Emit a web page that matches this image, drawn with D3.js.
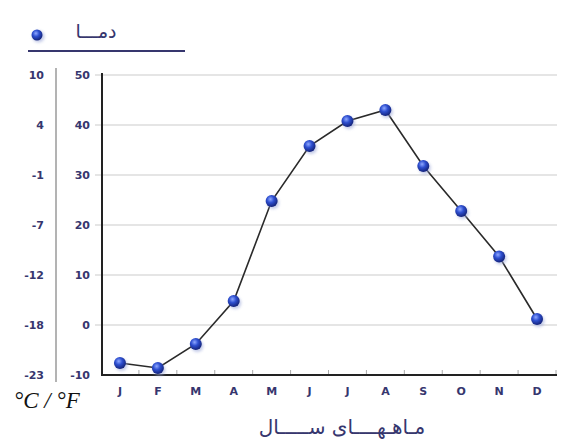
<!DOCTYPE html>
<html>
<head>
<meta charset="utf-8">
<script src="https://cdn.jsdelivr.net/npm/d3@7"></script>
<style>
  body { margin: 0; background: #fff; }
  svg { display: block; }
</style>
</head>
<body>
<div class="chart"></div>
<script>
const months = ["J", "F", "M", "A", "M", "J", "J", "A", "S", "O", "N", "D"];
const tempF = [-7.6, -8.6, -3.8, 4.8, 24.8, 35.8, 40.8, 43, 31.8, 22.8, 13.7, 1.2];
const ticksF = [50, 40, 30, 20, 10, 0, -10];
const ticksC = ["10", "4", "-1", "-7", "-12", "-18", "-23"];
const seriesName = "دمـــا";
const xTitle = "مـاهـهــــای ســـــال";
const unitLabel = "°C / °F";

const width = 561;
const height = 445;
const navy = "#36366e";

const svg = d3.select(".chart").append("svg")
  .attr("width", width)
  .attr("height", height);

const defs = svg.append("defs");
const grad = defs.append("radialGradient")
  .attr("id", "ball")
  .attr("cx", "40%").attr("cy", "35%").attr("r", "65%");
grad.append("stop").attr("offset", "0%").attr("stop-color", "#8fa8ff");
grad.append("stop").attr("offset", "45%").attr("stop-color", "#2e4fd0");
grad.append("stop").attr("offset", "100%").attr("stop-color", "#14237a");

const blur = defs.append("filter").attr("id", "blur")
  .attr("x", "-50%").attr("y", "-50%").attr("width", "200%").attr("height", "200%");
blur.append("feGaussianBlur").attr("stdDeviation", 1.6);

const x = d3.scaleBand().domain(d3.range(months.length)).range([101, 556]);
const y = d3.scaleLinear().domain([-10, 50]).range([375, 75]);
const cx = (i) => x(i) + x.bandwidth() / 2;

// gridlines
svg.append("g")
  .attr("class", "grid")
  .selectAll("line")
  .data(ticksF.filter((d) => d > -10)).enter()
  .append("line")
    .attr("x1", 95).attr("x2", 557)
    .attr("y1", (d) => y(d)).attr("y2", (d) => y(d))
    .style("stroke", "#cccccc")
    .style("stroke-width", 1.2);

// axis labels (°F)
svg.append("g")
  .selectAll("text")
  .data(ticksF).enter()
  .append("text")
    .attr("x", 90)
    .attr("y", (d) => y(d))
    .attr("dy", "0.35em")
    .attr("text-anchor", "end")
    .style("font", "bold 11px 'DejaVu Sans', sans-serif")
    .style("fill", navy)
    .text((d) => d);

// axis labels (°C)
svg.append("g")
  .selectAll("text")
  .data(ticksC).enter()
  .append("text")
    .attr("x", 44)
    .attr("y", (d, i) => y(ticksF[i]))
    .attr("dy", "0.35em")
    .attr("text-anchor", "end")
    .style("font", "bold 11px 'DejaVu Sans', sans-serif")
    .style("fill", navy)
    .text((d) => d);

// separator between scales
svg.append("line")
  .attr("x1", 56).attr("x2", 56)
  .attr("y1", 68).attr("y2", 382)
  .style("stroke", "#9a9a9a")
  .style("stroke-width", 1.5);

// bottom axis shadow + ticks
svg.append("line")
  .attr("x1", 103).attr("x2", 557)
  .attr("y1", y(-10) + 3).attr("y2", y(-10) + 3)
  .style("stroke", "#d8d8d8")
  .style("stroke-width", 3)
  .attr("filter", "url(#blur)");

const xAxis = d3.axisBottom(x)
  .tickFormat((i) => months[i])
  .tickSize(0)
  .tickPadding(12);
const gx = svg.append("g")
  .attr("transform", `translate(0, ${y(-10)})`)
  .call(xAxis);
gx.select(".domain").remove();
gx.selectAll("text")
  .style("font", "bold 11px 'DejaVu Sans', sans-serif")
  .style("fill", navy);

svg.append("g")
  .selectAll("line")
  .data(d3.range(1, months.length + 1)).enter()
  .append("line")
    .attr("x1", (i) => x.range()[0] + i * x.step())
    .attr("x2", (i) => x.range()[0] + i * x.step())
    .attr("y1", y(-10)).attr("y2", y(-10) - 5)
    .style("stroke", "#aaaaaa");

// frame axes
svg.append("line")
  .attr("x1", 102).attr("x2", 102)
  .attr("y1", 73).attr("y2", y(-10) + 1)
  .style("stroke", "#222")
  .style("stroke-width", 2);
svg.append("line")
  .attr("x1", 101).attr("x2", 557)
  .attr("y1", y(-10)).attr("y2", y(-10))
  .style("stroke", "#222")
  .style("stroke-width", 2);

// line
const line = d3.line()
  .x((d, i) => cx(i))
  .y((d) => y(d));
svg.append("path")
  .datum(tempF)
  .attr("d", line)
  .style("fill", "none")
  .style("stroke", "#2a2a2a")
  .style("stroke-width", 1.6);

// points
const pts = svg.append("g").attr("class", "points");
pts.selectAll(".shadow")
  .data(tempF).enter()
  .append("circle")
    .attr("class", "shadow")
    .attr("cx", (d, i) => cx(i) + 1.5)
    .attr("cy", (d) => y(d) + 2)
    .attr("r", 6)
    .style("fill", "#9aa6d8")
    .style("opacity", 0.6)
    .attr("filter", "url(#blur)");
pts.selectAll(".dot")
  .data(tempF).enter()
  .append("circle")
    .attr("class", "dot")
    .attr("cx", (d, i) => cx(i))
    .attr("cy", (d) => y(d))
    .attr("r", 6)
    .style("fill", "url(#ball)");

// legend
const legend = svg.append("g").attr("class", "legend");
legend.append("circle")
  .attr("cx", 38.5).attr("cy", 36.5).attr("r", 6)
  .style("fill", "#9aa6d8").style("opacity", 0.6)
  .attr("filter", "url(#blur)");
legend.append("circle")
  .attr("cx", 37).attr("cy", 35).attr("r", 5.5)
  .style("fill", "url(#ball)");
legend.append("text")
  .attr("x", 96).attr("y", 38)
  .attr("text-anchor", "middle")
  .style("font", "19px 'DejaVu Sans', sans-serif")
  .style("fill", navy)
  .text(seriesName);
legend.append("line")
  .attr("x1", 28).attr("x2", 185)
  .attr("y1", 51).attr("y2", 51)
  .style("stroke", navy)
  .style("stroke-width", 2);

// unit label
svg.append("text")
  .attr("x", 14).attr("y", 408)
  .style("font", "italic 23px 'Liberation Serif', serif")
  .style("fill", "#111")
  .text(unitLabel);

// x title
svg.append("text")
  .attr("x", 342).attr("y", 434)
  .attr("text-anchor", "middle")
  .style("font", "20px 'DejaVu Sans', sans-serif")
  .style("fill", navy)
  .text(xTitle);
</script>
</body>
</html>
